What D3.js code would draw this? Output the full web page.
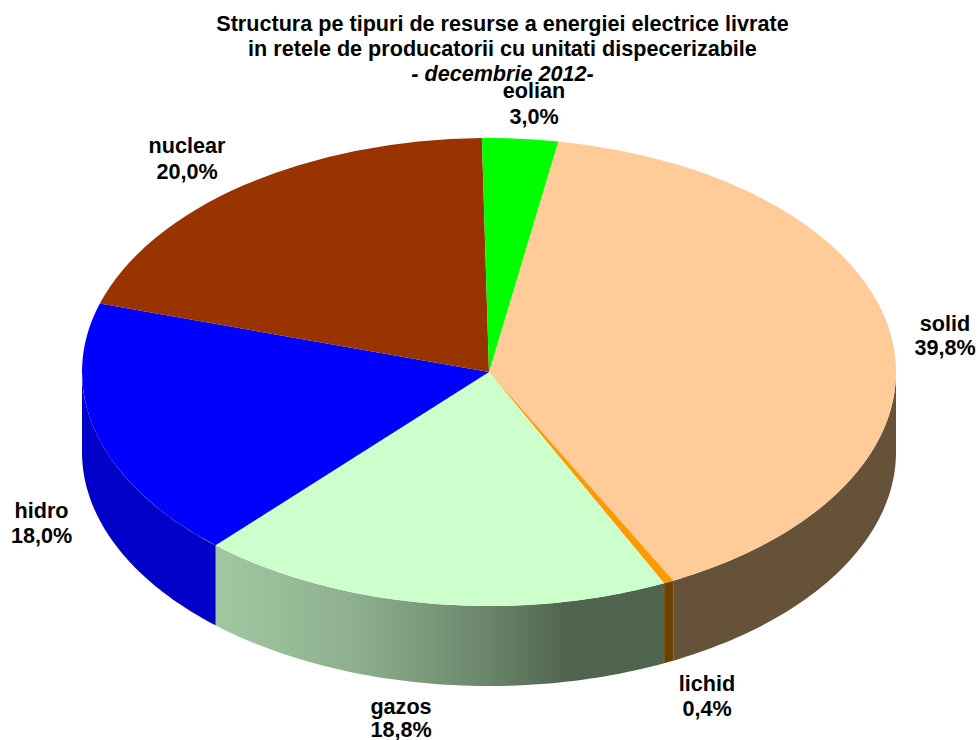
<!DOCTYPE html>
<html><head><meta charset="utf-8">
<script src="https://cdn.jsdelivr.net/npm/d3@7"></script>
<style>html,body{margin:0;padding:0;background:#fff}svg{display:block}text{font-family:"Liberation Sans",Arial,sans-serif;font-weight:bold;fill:#000}</style>
</head><body><svg id="c" width="978" height="740"></svg>
<script>
const categories = ["solid","lichid","gazos","hidro","nuclear","eolian"];
const values = [39.8,0.4,18.8,18.0,20.0,3.0];
const valueLabels = ["39,8%","0,4%","18,8%","18,0%","20,0%","3,0%"];
const topColors = ["#ffcc99","#ff9900","#ccffcc","#0000ff","#993300","#00ff00"];
const titleLines = ["Structura pe tipuri de resurse a energiei electrice livrate","in retele de producatorii cu unitati dispecerizabile"];
const subtitle = "- decembrie 2012-";

const W=978,H=740,cx=489,cy=372,rx=407,ry=234,depth=80,fs=21.6;
const svg=d3.select("#c");
const defs=svg.append("defs");
const g=defs.append("linearGradient").attr("id","gz").attr("gradientUnits","userSpaceOnUse")
  .attr("x1",215).attr("x2",664).attr("y1",0).attr("y2",0);
[[0,"#a1c8a1"],[0.3,"#8fb08f"],[0.6,"#6c876c"],[0.78,"#50654f"],[1,"#50654f"]].forEach(s=>g.append("stop").attr("offset",s[0]).attr("stop-color",s[1]));
const wallFill=["#665239","#6b4200","url(#gz)","#0000c8","#5c1f00","#009900"];

const rad=d=>d*Math.PI/180;
const pie=d3.pie().sort(null).startAngle(rad(9.8)).endAngle(rad(369.8));
const arcs=pie(values);
const px=a=>cx+rx*Math.sin(a), py=a=>cy-ry*Math.cos(a);

// side walls (only the part facing the viewer)
const line=d3.line();
arcs.forEach((d,i)=>{
  const a0=Math.max(d.startAngle,Math.PI/2), a1=Math.min(d.endAngle,Math.PI*1.5);
  if(a1<=a0) return;
  const ts=d3.range(0,61).map(k=>a0+(a1-a0)*k/60);
  const top=ts.map(t=>[px(t),py(t)]);
  const bot=ts.slice().reverse().map(t=>[px(t),py(t)+depth]);
  svg.append("path").attr("d",line(top.concat(bot))+"Z").attr("fill",wallFill[i]);
});
// top face
const arc=d3.arc().innerRadius(0).outerRadius(rx);
const topG=svg.append("g").attr("transform",`translate(${cx},${cy}) scale(1,${ry/rx})`);
topG.selectAll("path").data(arcs).join("path").attr("d",arc).attr("fill",(d,i)=>topColors[i]);

// title
const t=svg.append("g").attr("text-anchor","middle").style("font-size",fs+"px");
titleLines.forEach((s,i)=>t.append("text").attr("x",502.5).attr("y",31+25*i).text(s));
t.append("text").attr("x",502.5).attr("y",81).style("font-style","italic").text(subtitle);

// data labels: x, first baseline, second baseline
const labelAnchors=[[945,331,355],[707,691,716],[401,714,737],[41.5,518,542.5],[187,153,179],[534,98,124]];
categories.forEach((c,i)=>{
  const a=labelAnchors[i];
  const l=svg.append("g").attr("text-anchor","middle").style("font-size",fs+"px");
  l.append("text").attr("x",a[0]).attr("y",a[1]).text(c);
  l.append("text").attr("x",a[0]).attr("y",a[2]).text(valueLabels[i]);
});
</script></body></html>
